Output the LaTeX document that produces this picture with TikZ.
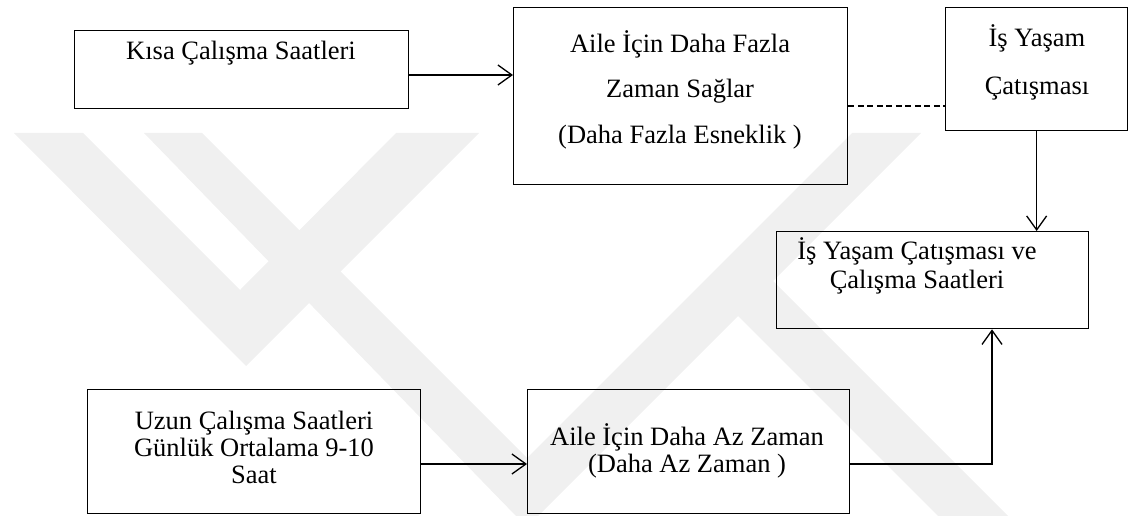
\documentclass[tikz,border=0pt]{standalone}
\usepackage{fontspec}
\setmainfont{Liberation Serif}
\usetikzlibrary{arrows.meta}
\begin{document}
\begin{tikzpicture}[x=1pt,y=-1pt,
  box/.style={draw, line width=1.3pt, inner sep=0pt, anchor=north west},
  txt/.style={font=\fontsize{26.5}{28}\selectfont, anchor=base, inner sep=0pt},
  conn/.style={line width=1.3pt, -{Straight Barb[length=14pt,width=20pt]}},
  link/.style={line width=1.3pt, dash pattern=on 6pt off 3.5pt},
  mark/.style={fill=black!6, draw=none},
]
\useasboundingbox (0,0) rectangle (1129,516);

% faint watermark
\fill[black!6] (14,133) -- (83,133) -- (240,290) -- (396,133) -- (479,133) -- (246,366) -- cycle;
\fill[black!6] (144,133) -- (202,133) -- (527,458) -- (852,133) -- (921,133) -- (533,521) -- (516,516) -- cycle;
\fill[black!6] (733,311) -- (768,276) -- (1008,516) -- (938,516) -- cycle;

% boxes
\node[box, minimum width=334pt, minimum height=78pt]  (b1) at (74,30)  {};
\node[box, minimum width=334pt, minimum height=177pt] (b2) at (513,7)  {};
\node[box, minimum width=182pt, minimum height=123pt] (b3) at (945,7)  {};
\node[box, minimum width=312pt, minimum height=97pt]  (b4) at (776,231) {};
\node[box, minimum width=333pt, minimum height=124pt] (b5) at (87,389) {};
\node[box, minimum width=322pt, minimum height=124pt] (b6) at (527,389) {};

% texts
\node[txt] (t1)  at (241,60)  {Kısa Çalışma Saatleri};
\node[txt] (t2a) at (680,53)  {Aile İçin Daha Fazla};
\node[txt] (t2b) at (680,98)  {Zaman Sağlar};
\node[txt] (t2c) at (680,143) {(Daha Fazla Esneklik )};
\node[txt] (t3a) at (1037,47) {İş Yaşam};
\node[txt] (t3b) at (1037,95) {Çatışması};
\node[txt] (t4a) at (917,259) {İş Yaşam Çatışması ve};
\node[txt] (t4b) at (917,288) {Çalışma Saatleri};
\node[txt] (t5a) at (254,429) {Uzun Çalışma Saatleri};
\node[txt] (t5b) at (254,456) {Günlük Ortalama 9-10};
\node[txt] (t5c) at (254,483) {Saat};
\node[txt] (t6a) at (687,445) {Aile İçin Daha Az Zaman};
\node[txt] (t6b) at (687,472) {(Daha Az Zaman )};

% helper coordinates
\coordinate (r1) at (0,75);
\coordinate (r2) at (0,106);
\coordinate (r5) at (0,464);
\coordinate (c6) at (992,0);

% connectors
\draw[conn] (b1.east |- r1) -- (b2.west |- r1);
\draw[link] (b2.east |- r2) -- (b3.west |- r2);
\draw[conn] (b3.south) -- (b4.north -| b3.south);
\draw[conn] (b5.east |- r5) -- (b6.west |- r5);
\draw[conn] (b6.east |- r5) -| (c6 |- b4.south);
\end{tikzpicture}
\end{document}
